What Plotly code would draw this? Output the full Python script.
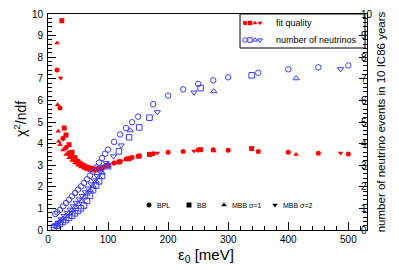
import plotly.graph_objects as go

# ---------------- data ----------------
# fit quality (chi2/ndf), left axis
bpl_fit_x = [15, 20, 25, 30, 35, 40, 45, 50, 55, 60, 65, 70, 75, 80, 85, 90, 95, 100, 110, 120, 130, 140, 150, 175, 200, 225, 250, 275, 300, 350, 400, 450, 500]
bpl_fit_y = [7.41, 5.65, 4.25, 3.82, 3.58, 3.42, 3.3, 3.18, 3.08, 3.0, 2.93, 2.88, 2.85, 2.84, 2.86, 2.9, 2.95, 3.02, 3.1, 3.17, 3.29, 3.36, 3.42, 3.53, 3.6, 3.64, 3.7, 3.72, 3.69, 3.64, 3.6, 3.55, 3.52]

bb_fit_x = [23, 27, 30, 35, 40, 45, 50, 55, 60, 65, 70, 75, 80, 85, 90, 100, 118, 135, 152, 169, 254, 339]
bb_fit_y = [9.69, 4.72, 4.4, 3.95, 3.6, 3.35, 3.15, 3.02, 2.93, 2.86, 2.8, 2.78, 2.79, 2.82, 2.87, 2.97, 3.15, 3.3, 3.42, 3.5, 3.72, 3.77]

mbb1_fit_x = [15, 16, 17, 18, 20, 25, 30, 35, 40, 45, 50, 55, 60, 65, 70, 75, 80, 85, 90, 99, 137, 276, 413]
mbb1_fit_y = [8.66, 5.8, 4.57, 4.1, 3.95, 3.7, 3.5, 3.35, 3.22, 3.1, 3.0, 2.92, 2.86, 2.82, 2.8, 2.8, 2.82, 2.85, 2.9, 2.98, 3.35, 3.66, 3.49]

mbb2_fit_x = [21, 25, 30, 35, 40, 45, 50, 55, 60, 65, 70, 75, 80, 85, 90, 97, 109, 122, 182, 243, 487]
mbb2_fit_y = [7.04, 4.2, 3.78, 3.5, 3.32, 3.18, 3.06, 2.97, 2.9, 2.85, 2.82, 2.81, 2.82, 2.85, 2.9, 2.97, 3.08, 3.2, 3.56, 3.66, 3.56]

# number of neutrinos, right axis
bpl_nu_x = [12, 15, 20, 25, 30, 35, 40, 45, 50, 55, 60, 65, 70, 75, 80, 85, 90, 95, 100, 110, 120, 130, 140, 150, 175, 200, 225, 250, 275, 300, 350, 400, 450, 500]
bpl_nu_y = [0.74, 0.82, 0.93, 1.1, 1.25, 1.4, 1.56, 1.71, 1.87, 2.02, 2.18, 2.35, 2.52, 2.7, 2.9, 3.12, 3.33, 3.53, 3.72, 4.08, 4.42, 4.72, 4.99, 5.25, 5.82, 6.22, 6.51, 6.76, 6.93, 7.07, 7.28, 7.44, 7.53, 7.62]

bb_nu_x = [10, 15, 20, 25, 30, 35, 40, 45, 50, 55, 60, 65, 70, 75, 80, 85, 90, 100, 118, 135, 152, 169, 254, 339]
bb_nu_y = [0.12, 0.2, 0.28, 0.37, 0.46, 0.56, 0.66, 0.77, 0.88, 1.0, 1.13, 1.35, 1.58, 1.85, 2.05, 2.25, 2.5, 2.95, 3.64, 4.29, 4.75, 5.2, 6.57, 7.16]

mbb1_nu_x = [10, 15, 20, 25, 30, 35, 40, 45, 50, 55, 60, 65, 70, 75, 80, 85, 90, 99, 137, 276, 413]
mbb1_nu_y = [0.18, 0.28, 0.4, 0.52, 0.65, 0.78, 0.92, 1.06, 1.2, 1.35, 1.5, 1.68, 1.85, 2.05, 2.25, 2.45, 2.65, 3.0, 4.61, 6.42, 7.02]

mbb2_nu_x = [12, 17, 22, 27, 32, 37, 42, 47, 52, 57, 62, 67, 72, 77, 82, 87, 92, 97, 109, 122, 182, 243, 487]
mbb2_nu_y = [0.22, 0.35, 0.5, 0.65, 0.8, 0.95, 1.1, 1.26, 1.42, 1.58, 1.75, 1.93, 2.12, 2.3, 2.5, 2.7, 2.9, 3.1, 3.41, 3.92, 5.46, 6.37, 7.45]

x_ticks = [0, 100, 200, 300, 400, 500]
y_ticks = list(range(0, 11))

RED = "#ff0000"
BLUE = "#3c3cff"
FONT = "Liberation Sans, Arial, sans-serif"

symbols = ["circle", "square", "triangle-up", "triangle-down"]
fit_series = [(bpl_fit_x, bpl_fit_y), (bb_fit_x, bb_fit_y), (mbb1_fit_x, mbb1_fit_y), (mbb2_fit_x, mbb2_fit_y)]
nu_series = [(bpl_nu_x, bpl_nu_y), (bb_nu_x, bb_nu_y), (mbb1_nu_x, mbb1_nu_y), (mbb2_nu_x, mbb2_nu_y)]

fig = go.Figure()

for (xs, ys), sym in zip(nu_series, symbols):
    fig.add_trace(go.Scatter(x=xs, y=ys, mode="markers", yaxis="y2", showlegend=False,
                             marker=dict(symbol=sym + "-open", size=5.5, color=BLUE, line=dict(width=1, color=BLUE))))
for (xs, ys), sym in zip(fit_series, symbols):
    fig.add_trace(go.Scatter(x=xs, y=ys, mode="markers", showlegend=False,
                             marker=dict(symbol=sym, size=5, color=RED, line=dict(width=0))))

# plot area in pixels: x 40..359, y 6..222
PL, PR, PT, PB = 40, 359, 6, 222
def fx(px):
    return (px - PL) / float(PR - PL)
def fy(py):
    return (PB - py) / float(PB - PT)

leg_px = [237, 242, 247, 252]
fig.add_trace(go.Scatter(x=[fx(p) for p in leg_px], y=[fy(15)] * 4, mode="markers", xaxis="x3", yaxis="y3",
                         showlegend=False, hoverinfo="skip",
                         marker=dict(symbol=symbols, size=4.5, color=RED, line=dict(width=0))))
fig.add_trace(go.Scatter(x=[fx(p) for p in leg_px], y=[fy(32)] * 4, mode="markers", xaxis="x3", yaxis="y3",
                         showlegend=False, hoverinfo="skip",
                         marker=dict(symbol=[s + "-open" for s in symbols], size=4.5, color=BLUE, line=dict(width=1, color=BLUE))))
type_px = [141, 181, 216, 267]
type_labels = ["BPL", "BB", "MBB σ=1", "MBB σ=2"]
fig.add_trace(go.Scatter(x=[fx(p) for p in type_px], y=[fy(197)] * 4, mode="markers", xaxis="x3", yaxis="y3",
                         showlegend=False, hoverinfo="skip",
                         marker=dict(symbol=symbols, size=5, color="black", line=dict(width=0))))

annotations = []
for p, lab in zip(type_px, type_labels):
    annotations.append(dict(x=fx(p + 6), y=fy(197), xref="paper", yref="paper", text=lab, showarrow=False,
                            xanchor="left", yanchor="middle", font=dict(size=7, color="black", family=FONT)))
annotations.append(dict(x=fx(266), y=fy(15), xref="paper", yref="paper", text="fit quality", showarrow=False,
                        xanchor="left", yanchor="middle", font=dict(size=9, color="black", family=FONT)))
annotations.append(dict(x=fx(266), y=fy(32), xref="paper", yref="paper", text="number of neutrinos", showarrow=False,
                        xanchor="left", yanchor="middle", font=dict(size=9, color="black", family=FONT)))
# axis titles
annotations.append(dict(x=fx(12), y=fy(111), xref="paper", yref="paper", text="χ<sup>2</sup>/ndf",
                        showarrow=False, textangle=-90, xanchor="center", yanchor="middle",
                        font=dict(size=14, color="black", family=FONT)))
annotations.append(dict(x=fx(198), y=fy(247), xref="paper", yref="paper", text="ε<sub>0</sub> [meV]",
                        showarrow=False, xanchor="center", yanchor="middle",
                        font=dict(size=15, color="black", family=FONT)))

# legend box
shapes = [dict(type="rect", xref="paper", yref="paper", x0=fx(232), x1=fx(357), y0=fy(40), y1=fy(6),
               line=dict(color="black", width=1), fillcolor="white", layer="below")]

axis_common = dict(showline=True, linecolor="black", linewidth=1, ticks="inside", ticklen=8, tickwidth=1,
                   tickcolor="black", showgrid=False, zeroline=False, automargin=False,
                   tickfont=dict(size=10, color="black", family=FONT))

fig.update_layout(
    width=399, height=270,
    margin=dict(l=PL, r=399 - PR, t=PT, b=270 - PB, autoexpand=False),
    paper_bgcolor="white", plot_bgcolor="white",
    showlegend=False,
    xaxis=dict(range=[0, 531], tickvals=x_ticks, mirror=True,
               minor=dict(dtick=20, tick0=0, ticks="inside", ticklen=4, tickcolor="black"),
               **axis_common),
    yaxis=dict(range=[0, 10], tickvals=y_ticks, mirror=False, ticklabelstandoff=2,
               minor=dict(dtick=0.2, tick0=0, ticks="inside", ticklen=4, tickcolor="black"),
               **axis_common),
    yaxis2=dict(range=[0, 10], tickvals=y_ticks, overlaying="y", side="right", anchor="x", ticklabelstandoff=-9,
                title=dict(text="number of neutrino events in 10 IC86 years", standoff=5,
                           font=dict(size=11.5, color="black", family=FONT)),
                minor=dict(dtick=0.2, tick0=0, ticks="inside", ticklen=4, tickcolor="black"),
                **axis_common),
    xaxis3=dict(range=[0, 1], overlaying="x", visible=False, domain=[0, 1], anchor="y3", automargin=False),
    yaxis3=dict(range=[0, 1], overlaying="y", visible=False, domain=[0, 1], anchor="x3", automargin=False),
    annotations=annotations,
    shapes=shapes,
)

fig.write_html("out.html")
